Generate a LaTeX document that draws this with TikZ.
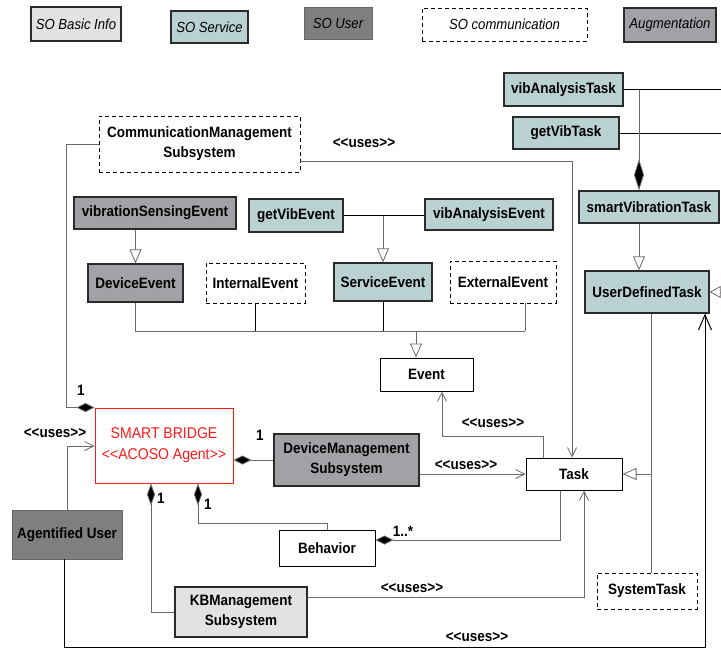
\documentclass[tikz,border=0pt]{standalone}
\usepackage{fontspec}
\setmainfont{Liberation Sans}
\newfontfamily\narrowfont{Liberation Sans}[FakeStretch=0.9]
\usetikzlibrary{arrows.meta}

\definecolor{basicfill}{HTML}{E2E2E2}
\definecolor{servicefill}{HTML}{B9D1D1}
\definecolor{userfill}{HTML}{7F7F7F}
\definecolor{augfill}{HTML}{A2A2A6}
\definecolor{edgecol}{HTML}{2A2A2A}
\definecolor{wirecol}{HTML}{6A6A6A}
\definecolor{agentred}{HTML}{FF1A1A}

% double angle brackets, kept apart so the font mapping does not merge them
\newcommand{\dlt}{<\kern0pt<}
\newcommand{\dgt}{>\kern0pt>}

\tikzset{
  boxbase/.style={rectangle, inner sep=0pt, align=center, text=black,
    font=\narrowfont\fontsize{15}{20}\selectfont\bfseries},
  basicbox/.style={boxbase, draw=edgecol, line width=1.3pt, fill=basicfill},
  servicebox/.style={boxbase, draw=edgecol, line width=1.3pt, fill=servicefill},
  userbox/.style={boxbase, draw=userfill!80!black, line width=0.8pt, fill=userfill},
  augbox/.style={boxbase, draw=edgecol, line width=1.3pt, fill=augfill},
  commbox/.style={boxbase, draw=black, line width=0.9pt, dash pattern=on 4pt off 3pt, fill=white},
  plainbox/.style={boxbase, draw=black, line width=1pt, fill=white},
  agentbox/.style={boxbase, draw=agentred, line width=1pt, fill=white, text=agentred,
    font=\narrowfont\fontsize{15.6}{21}\selectfont},
  legendtext/.style={font=\narrowfont\fontsize{14.6}{16}\selectfont\itshape},
  conn/.style={draw=wirecol, line width=0.8pt},
  gen/.style={conn, -{Triangle[open, length=14pt, width=12pt, fill=white]}},
  uses/.style={conn, -{Straight Barb[length=9pt, width=9pt]}},
  comp/.style={conn, -{Diamond[length=18pt, width=9pt, fill=black]}},
  mult/.style={font=\narrowfont\fontsize{15}{17}\selectfont\bfseries, inner sep=0pt},
  stereo/.style={font=\narrowfont\fontsize{15}{17}\selectfont\bfseries, inner sep=0pt},
}

\begin{document}
\begin{tikzpicture}[x=1pt, y=-1pt]
\useasboundingbox (0,0) rectangle (721,649);

% ---------- legend ----------
\node[basicbox, legendtext, minimum width=90pt, minimum height=34pt] (lgBasic) at (76,24) {SO Basic Info};
\node[servicebox, legendtext, minimum width=77pt, minimum height=32pt] (lgService) at (209.5,27) {SO Service};
\node[userbox, legendtext, minimum width=68pt, minimum height=32pt] (lgUser) at (338,23) {SO User};
\node[commbox, legendtext, minimum width=165pt, minimum height=33pt] (lgComm) at (504.5,24.5) {SO communication};
\node[augbox, legendtext, minimum width=92pt, minimum height=34pt] (lgAug) at (670,25) {Augmentation};

% ---------- classes ----------
\node[servicebox, minimum width=119pt, minimum height=33pt] (vibAT) at (563.5,89.5) {vibAnalysisTask};
\node[servicebox, minimum width=106pt, minimum height=32pt] (getVT) at (566,133) {getVibTask};
\node[servicebox, minimum width=140pt, minimum height=32pt] (smartVT) at (649,207) {smartVibrationTask};
\node[servicebox, minimum width=124pt, minimum height=42pt] (udt) at (647,292) {UserDefinedTask};

\node[commbox, minimum width=201pt, minimum height=56pt] (comm) at (199.5,144) {CommunicationManagement\\Subsystem};

\node[augbox, minimum width=162pt, minimum height=32pt] (vse) at (155,213) {vibrationSensingEvent};
\node[servicebox, minimum width=94pt, minimum height=33pt] (gve) at (296,215.5) {getVibEvent};
\node[servicebox, minimum width=128pt, minimum height=31pt] (vae) at (489,214.5) {vibAnalysisEvent};

\node[augbox, minimum width=95pt, minimum height=38pt] (devev) at (135.5,283) {DeviceEvent};
\node[commbox, minimum width=99pt, minimum height=40pt] (intev) at (255.5,283) {InternalEvent};
\node[servicebox, minimum width=98pt, minimum height=38pt] (srvev) at (383,282) {ServiceEvent};
\node[commbox, minimum width=106pt, minimum height=42pt] (extev) at (503,282) {ExternalEvent};

\node[plainbox, minimum width=93pt, minimum height=33pt] (event) at (426.5,374.5) {Event};

\node[agentbox, minimum width=138pt, minimum height=75pt] (bridge) at (164,445.5) {SMART BRIDGE\\\dlt ACOSO Agent\dgt};
\node[augbox, minimum width=145pt, minimum height=52pt] (dms) at (346.5,460) {DeviceManagement\\Subsystem};
\node[plainbox, minimum width=96pt, minimum height=32pt] (task) at (574,474) {Task};

\node[userbox, minimum width=110pt, minimum height=49pt] (agu) at (67,534.5) {Agentified User};
\node[plainbox, minimum width=96pt, minimum height=36pt] (behav) at (327,548) {Behavior};
\node[basicbox, minimum width=132pt, minimum height=50pt] (kb) at (241,612) {KBManagement\\Subsystem};
\node[commbox, minimum width=100pt, minimum height=36pt] (systask) at (647,591) {SystemTask};

% ---------- junction and edge points ----------
\coordinate (vibJ) at (639,89.5);
\coordinate (edgeVib) at (721,89.5);
\coordinate (edgeGet) at (721,133);
\coordinate (edgeUdt) at (721,292);
\coordinate (taskTreeX) at (651,474);
\coordinate (busL) at (135.5,331);
\coordinate (busR) at (525,331);
\coordinate (busArrow) at (416,331);
\coordinate (aguLow) at (64,647);
\coordinate (rightRail) at (705,647);
\coordinate (aguHigh) at (67,446);
\coordinate (commLeft) at (66,144);
\coordinate (commRight) at (572,161);
\coordinate (evTurnA) at (543,436);
\coordinate (evTurnB) at (442,436);
\coordinate (dmsOut) at (419,474);
\coordinate (kbBranch) at (151,612);
\coordinate (behTurnA) at (198,523);
\coordinate (behTurnB) at (327,523);
\coordinate (taskBeh) at (560,540);
\coordinate (kbOut) at (307,597);
\coordinate (kbUp) at (584,597);

% ---------- task hierarchy ----------
\draw[conn, draw=black] (vibAT.east) -- (edgeVib);
\draw[conn, draw=black] (getVT.east) -- (edgeGet);
\draw[conn, -{Diamond[length=31pt, width=10pt, fill=black]}] (vibJ) -- (vibJ |- smartVT.north);
\draw[gen] (smartVT.south -| vibJ) -- (udt.north -| vibJ);
\draw[conn, -{Triangle[open, length=11pt, width=12pt, fill=white]}] (edgeUdt) -- (udt.east);
\draw[conn] (udt.south -| taskTreeX) -- (taskTreeX);
\draw[conn] (systask.north -| taskTreeX) -- (taskTreeX);
\draw[gen] (taskTreeX) -- (task.east);

% ---------- event hierarchy ----------
\draw[gen] (vse.south -| devev.north) -- (devev.north);
\draw[conn, draw=black] (gve.east) -- (gve.east -| vae.west);
\draw[gen] (srvev.north |- gve.east) -- (srvev.north);
\draw[conn] (devev.south) -- (busL) -- (busR);
\draw[conn, draw=black] (intev.south) -- (intev.south |- busL);
\draw[conn, draw=black] (srvev.south) -- (srvev.south |- busL);
\draw[conn] (extev.south -| busR) -- (busR);
\draw[gen] (busArrow) -- (busArrow |- event.north);

% ---------- uses dependencies ----------
\draw[uses] (task.north -| evTurnA) -- (evTurnA) -- (evTurnB) -- (evTurnB |- event.south);
\node[stereo] (usesEv) at (493,423) {\dlt uses\dgt};

\draw[uses] (comm.east |- commRight) -- (commRight) -- (commRight |- task.north);
\node[stereo] (usesComm) at (364,143) {\dlt uses\dgt};

\draw[uses] (dmsOut) -- (task.west);
\node[stereo] (usesDms) at (466,465) {\dlt uses\dgt};

\draw[uses] (kbOut) -- (kbUp) -- (kbUp |- task.south);
\node[stereo] (usesKb) at (412,588) {\dlt uses\dgt};

\draw[uses] (agu.north -| aguHigh) -- (aguHigh) -- (aguHigh -| bridge.west);
\node[stereo] (usesAgu) at (55,433) {\dlt uses\dgt};

\draw[conn, draw=black, -{Straight Barb[length=15pt, width=13pt]}, line width=1pt]
  (agu.south -| aguLow) -- (aguLow) -- (rightRail) -- (rightRail |- udt.south);
\node[stereo] (usesRail) at (477,637) {\dlt uses\dgt};

% ---------- compositions of the agent ----------
\draw[comp] (commLeft -| comm.west) -- (commLeft) -- (commLeft |- bridge.north) -- (bridge.north west);
\node[mult] (mComm) at (81,390) {1};

\draw[comp] (dms.west) -- (dms.west -| bridge.east);
\node[mult] (mDms) at (260,435) {1};

\draw[conn, -{Diamond[length=22pt, width=8pt, fill=black]}] (kb.west) -- (kbBranch) -- (kbBranch |- bridge.south);
\node[mult] (mKb) at (161,498) {1};

\draw[conn, -{Diamond[length=22pt, width=8pt, fill=black]}] (behav.north) -- (behTurnB) -- (behTurnA) -- (behTurnA |- bridge.south);
\node[mult] (mBeh) at (208,504) {1};

\draw[comp] (task.south -| taskBeh) -- (taskBeh) -- (taskBeh -| behav.east);
\node[mult] (mTask) at (403,531) {1..*};
\end{tikzpicture}
\end{document}
